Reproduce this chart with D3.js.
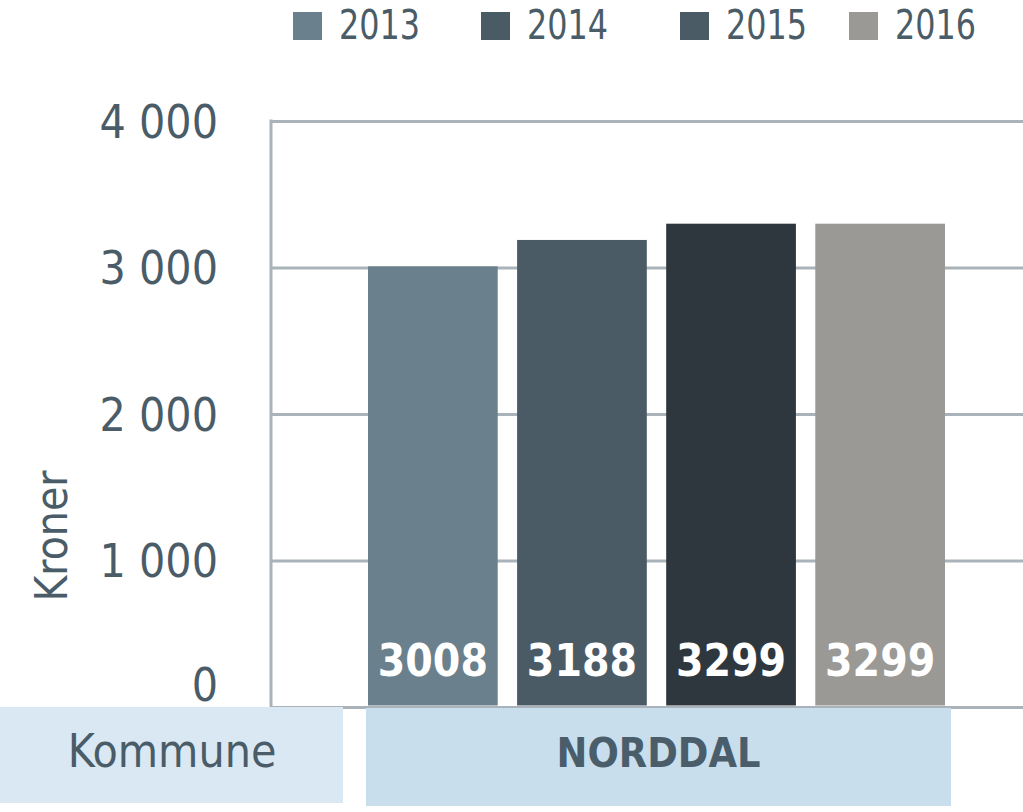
<!DOCTYPE html>
<html>
<head>
<meta charset="utf-8">
<script src="https://cdn.jsdelivr.net/npm/d3@7"></script>
<style>
	body { margin: 0; background: #fff; }
	svg { display: block; }
	.cond { font-family: "DejaVu Sans Condensed", "DejaVu Sans", sans-serif; font-stretch: condensed; }
</style>
</head>
<body>
<script>
// Chart data
var years = ['2013', '2014', '2015', '2016'];
var values = [3008, 3188, 3299, 3299];
var yTicks = [0, 1000, 2000, 3000, 4000];
var categories = ['NORDDAL'];
var rowLabel = 'Kommune';
var yLabel = 'Kroner';

// Colours
var barColors = ['#6a808c', '#4b5b66', '#2e373d', '#9a9996'];
var legendColors = ['#6a808c', '#4b5b66', '#4b5b66', '#9a9996'];
var textColor = '#4a5c68';
var gridColor = '#a9b3b9';

var width = 1023, height = 812;
var plotLeft = 272;

var svg = d3
	.select('body')
	.append('svg')
	.attr('width', width)
	.attr('height', height);

// Scales
var y = d3.scaleLinear().domain([0, 4000]).range([707, 121]);
var xCat = d3.scaleBand().domain(categories).range([366, 951]);
var x = d3
	.scaleBand()
	.domain(years)
	.range([368, 945])
	.paddingInner(0.13);

// Gridlines
var grid = svg
	.append('g')
	.attr('transform', 'translate(' + plotLeft + ',0)')
	.call(d3.axisRight(y).tickValues(yTicks).tickSize(width - plotLeft).tickFormat(''));
grid.select('.domain').remove();
grid.selectAll('line').attr('stroke', gridColor).attr('stroke-width', 3);

// Vertical axis line
svg
	.append('line')
	.attr('x1', plotLeft - 1)
	.attr('x2', plotLeft - 1)
	.attr('y1', y(4000) - 1.5)
	.attr('y2', y(0) + 1.5)
	.attr('stroke', gridColor)
	.attr('stroke-width', 3);

// Y tick labels
var yAxis = svg
	.append('g')
	.attr('class', 'cond')
	.attr('transform', 'translate(' + (plotLeft - 54) + ',0)')
	.call(d3.axisLeft(y).tickValues(yTicks).tickSize(0).tickPadding(0)
		.tickFormat(d => d3.format(',')(d).replace(',', ' ')));
yAxis.select('.domain').remove();
yAxis
	.selectAll('text')
	.attr('fill', textColor)
	.style('font-size', '46px')
	.attr('dy', d => (d === 0 ? '-0.15em' : '0.35em'));

// Y axis label
svg
	.append('text')
	.attr('class', 'cond')
	.attr('transform', 'rotate(-90)')
	.attr('x', -536)
	.attr('y', 67)
	.style('text-anchor', 'middle')
	.style('font-size', '44px')
	.attr('fill', textColor)
	.text(yLabel);

// Category row
svg
	.append('rect')
	.attr('x', 0)
	.attr('y', 707)
	.attr('width', 343)
	.attr('height', 96)
	.attr('fill', '#d9e8f3');
svg
	.append('text')
	.attr('class', 'cond')
	.attr('x', 172)
	.attr('y', 767)
	.style('text-anchor', 'middle')
	.style('font-size', '46px')
	.attr('fill', textColor)
	.text(rowLabel);

svg
	.selectAll('.cat')
	.data(categories)
	.enter()
	.append('rect')
	.attr('class', 'cat')
	.attr('x', d => xCat(d))
	.attr('y', 708)
	.attr('width', xCat.bandwidth())
	.attr('height', 98)
	.attr('fill', '#c9deed');
svg
	.selectAll('.catlabel')
	.data(categories)
	.enter()
	.append('text')
	.attr('class', 'cond catlabel')
	.attr('x', d => xCat(d) + xCat.bandwidth() / 2)
	.attr('y', 767)
	.style('text-anchor', 'middle')
	.style('font-size', '41px')
	.style('font-weight', 'bold')
	.attr('fill', '#4a5d6b')
	.text(d => d);

// Bars
var bar = svg
	.selectAll('.bar')
	.data(years)
	.enter()
	.append('g')
	.attr('class', 'bar')
	.attr('transform', d => 'translate(' + x(d) + ',0)');

bar
	.append('rect')
	.attr('y', (d, i) => y(values[i]))
	.attr('height', (d, i) => y(0) - 1.5 - y(values[i]))
	.attr('width', x.bandwidth())
	.attr('fill', (d, i) => barColors[i]);

bar
	.append('text')
	.attr('class', 'cond')
	.attr('x', x.bandwidth() / 2)
	.attr('y', y(0) - 31)
	.style('text-anchor', 'middle')
	.style('font-size', '44px')
	.style('font-weight', 'bold')
	.attr('fill', '#fff')
	.text((d, i) => values[i]);

// Legend
var legendX = [293, 481, 680, 849];
var legend = svg
	.selectAll('.legend')
	.data(years)
	.enter()
	.append('g')
	.attr('class', 'legend')
	.attr('transform', (d, i) => 'translate(' + legendX[i] + ',0)');

legend
	.append('rect')
	.attr('y', 12)
	.attr('width', 29)
	.attr('height', 28)
	.attr('fill', (d, i) => legendColors[i]);

legend
	.append('text')
	.attr('class', 'cond')
	.attr('x', 46)
	.attr('y', 39)
	.attr('textLength', 81)
	.attr('lengthAdjust', 'spacingAndGlyphs')
	.style('font-size', '41px')
	.attr('fill', textColor)
	.text(d => d);
</script>
</body>
</html>
